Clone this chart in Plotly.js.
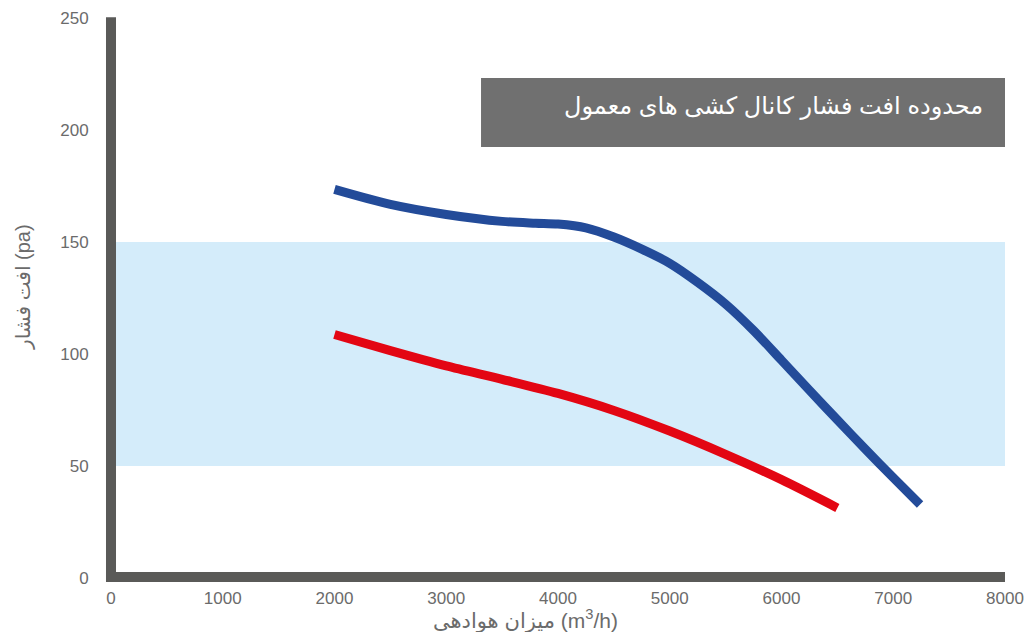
<!DOCTYPE html>
<html>
<head>
<meta charset="utf-8">
<script src="https://cdn.plot.ly/plotly-3.0.1.min.js"></script>
<style>html,body{margin:0;padding:0;background:#fff}#chart{width:1024px;height:632px}</style>
</head>
<body>
<div id="chart"></div>
<script>
// Data
const blueX = [2000, 2500, 3000, 3500, 3800, 4000, 4250, 4500, 4750, 5000, 5250, 5500, 5750, 6000, 6250, 6500, 6750, 7000, 7240];
const blueY = [173.5, 166.8, 162.3, 159.2, 158.4, 158, 156.3, 152.2, 146.8, 140.5, 132, 122.3, 110.5, 97.2, 83.8, 70.6, 57.5, 44.8, 32.8];
const redX = [2000, 2500, 3000, 3500, 4000, 4500, 5000, 5500, 6000, 6500];
const redY = [108.7, 101.5, 94.7, 88.7, 82.4, 74.8, 65.6, 55.2, 43.9, 31.3];
const xTicks = [0, 1000, 2000, 3000, 4000, 5000, 6000, 7000, 8000];
const yTicks = [0, 50, 100, 150, 200, 250];
const bandLow = 50, bandHigh = 150;
const boxText = 'محدوده افت فشار کانال کشی های معمول';
const xTitle = 'میزان هوادهی (m<sup>3</sup>/h)';
const yTitle = 'افت فشار (pa)';

const tickFont = {family: 'Liberation Sans, Arial, sans-serif', size: 17, color: '#6b6b6b'};
const faFont = 'Liberation Sans, DejaVu Sans, sans-serif';

const traces = [
  {x: blueX, y: blueY, type: 'scatter', mode: 'lines', line: {color: '#234b99', width: 9, shape: 'spline', smoothing: 0.8}, hoverinfo: 'skip'},
  {x: redX, y: redY, type: 'scatter', mode: 'lines', line: {color: '#e30613', width: 9, shape: 'spline', smoothing: 0.8}, hoverinfo: 'skip'}
];

const layout = {
  width: 1024, height: 632,
  margin: {l: 111, r: 19, t: 18, b: 54},
  paper_bgcolor: '#fff', plot_bgcolor: '#fff',
  showlegend: false,
  xaxis: {range: [0, 8000], tickvals: xTicks, ticktext: xTicks.map(String), showgrid: false, zeroline: false, showline: false,
          ticks: 'outside', ticklen: 5, tickcolor: 'rgba(0,0,0,0)', tickfont: tickFont, fixedrange: true},
  yaxis: {range: [0, 250], tickvals: yTicks, ticktext: yTicks.map(String), showgrid: false, zeroline: false, showline: false,
          ticks: 'outside', ticklen: 18, tickcolor: 'rgba(0,0,0,0)', tickfont: tickFont, fixedrange: true},
  shapes: [
    {type: 'rect', xref: 'x', yref: 'y', x0: 0, x1: 8000, y0: bandLow, y1: bandHigh, fillcolor: '#d4ecfa', line: {width: 0}, layer: 'below'},
    {type: 'rect', xref: 'paper', yref: 'paper', x0: -0.0056, x1: 0.0056, y0: -0.0071, y1: 1.0013, fillcolor: '#5a5a58', line: {width: 0}},
    {type: 'rect', xref: 'paper', yref: 'paper', x0: -0.0056, x1: 1.0, y0: -0.0071, y1: 0.0107, fillcolor: '#5a5a58', line: {width: 0}},
    {type: 'rect', xref: 'paper', yref: 'paper', x0: 0.4139, x1: 1.0, y0: 0.7696, y1: 0.8929, fillcolor: '#707070', line: {width: 0}}
  ],
  annotations: [
    {xref: 'paper', yref: 'paper', x: 0.9776, y: 0.8429, xanchor: 'right', yanchor: 'middle', showarrow: false,
     text: boxText, font: {family: faFont, size: 24, color: '#ffffff'}},
    {xref: 'paper', yref: 'paper', x: (525 - 111) / 894, y: (578 - 619) / 560, xanchor: 'center', yanchor: 'middle', showarrow: false,
     text: xTitle, font: {family: faFont, size: 21, color: '#6b6b6b'}},
    {xref: 'paper', yref: 'paper', x: (23 - 111) / 894, y: (578 - 287) / 560, xanchor: 'center', yanchor: 'middle', showarrow: false,
     textangle: -90, text: yTitle, font: {family: faFont, size: 20, color: '#6b6b6b'}}
  ]
};

Plotly.newPlot('chart', traces, layout, {displayModeBar: false, staticPlot: true});
</script>
</body>
</html>
